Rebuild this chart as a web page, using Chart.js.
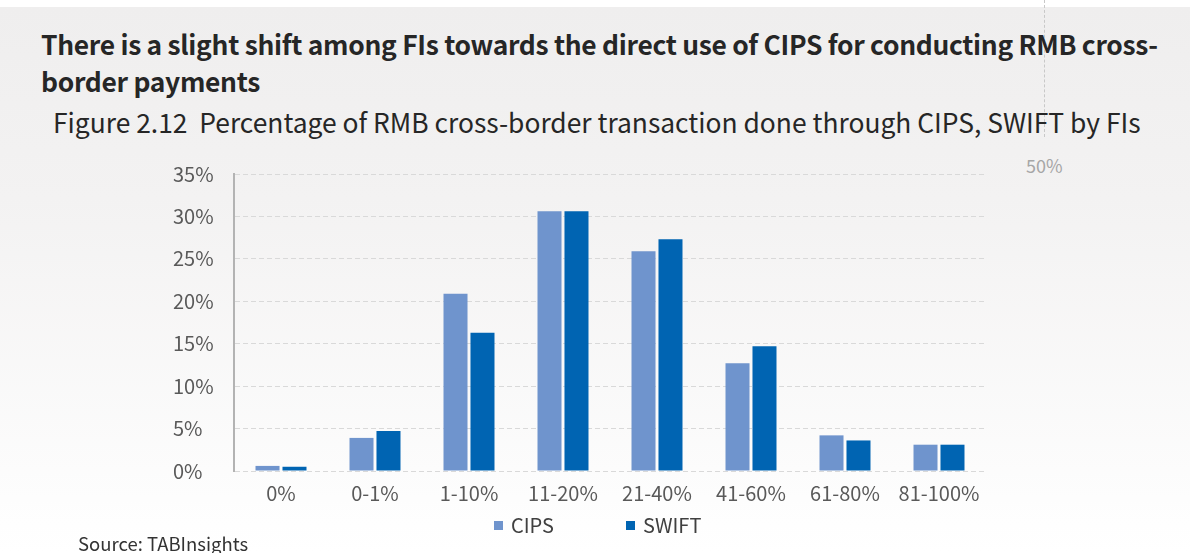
<!DOCTYPE html>
<html>
<head>
<meta charset="utf-8">
<script src="https://cdn.jsdelivr.net/npm/chart.js@4.4.0/dist/chart.umd.min.js"></script>
<style>
  html,body{margin:0;padding:0;width:1190px;height:553px;overflow:hidden;background:#fff;}
  #bg{position:absolute;left:0;top:7px;width:1190px;height:546px;background:linear-gradient(#efeeee 0%,#f3f2f2 35%,#fdfdfd 90%,#ffffff 100%);}
  .t{position:absolute;font-family:"Noto Sans CJK SC","Source Sans Pro",sans-serif;white-space:nowrap;}
  #title{left:41px;top:25px;font-size:26.4px;font-weight:700;color:#262626;line-height:37px;letter-spacing:-0.3px;}
  #sub{left:53px;top:109px;font-size:26.4px;line-height:1;color:#262626;}
  #src{left:78px;top:534px;font-size:18.5px;line-height:1;color:#333;}
  #fifty{left:1026px;top:156px;font-size:18px;line-height:1;color:#a6a6a6;}
  #vline{position:absolute;left:1044px;top:0;height:137px;border-left:1px dashed #c8c8c8;}
  #chartwrap{position:absolute;left:0;top:0;width:1190px;height:553px;}
  .sq{position:absolute;width:9px;height:9px;}
  .lg{position:absolute;font-family:"Noto Sans CJK SC",sans-serif;font-size:20px;line-height:1;color:#404040;}
</style>
</head>
<body>
<div id="bg"></div>
<div id="vline"></div>
<div class="t" id="title">There is a slight shift among FIs towards the direct use of CIPS for conducting RMB cross-<br>border payments</div>
<div class="t" id="sub">Figure 2.12&nbsp; Percentage of RMB cross-border transaction done through CIPS, SWIFT by FIs</div>
<div class="t" id="fifty">50%</div>
<div id="chartwrap"><canvas id="c" width="1190" height="553"></canvas></div>
<div class="sq" style="left:494px;top:521px;background:#6f94cd"></div>
<div class="lg" style="left:511px;top:515px;">CIPS</div>
<div class="sq" style="left:626px;top:521px;background:#0064b2"></div>
<div class="lg" style="left:643px;top:515px;">SWIFT</div>
<div class="t" id="src">Source: TABInsights</div>
<script>
const categories = ["0%","0-1%","1-10%","11-20%","21-40%","41-60%","61-80%","81-100%"];
const cipsValues = [0.6, 3.9, 20.9, 30.6, 25.9, 12.7, 4.2, 3.1];
const swiftValues = [0.5, 4.7, 16.3, 30.6, 27.3, 14.7, 3.6, 3.1];
const yTicks = [0,5,10,15,20,25,30,35];

const FONT = '"Noto Sans CJK SC", "Source Sans Pro", sans-serif';
new Chart(document.getElementById('c'), {
  type: 'bar',
  data: {
    labels: categories,
    datasets: [
      {label:'CIPS', data: cipsValues, backgroundColor:'#6f94cd', categoryPercentage:0.574, barPercentage:0.89},
      {label:'SWIFT', data: swiftValues, backgroundColor:'#0064b2', categoryPercentage:0.574, barPercentage:0.89}
    ]
  },
  options: {
    responsive:false, animation:false, devicePixelRatio:1,
    layout:{padding:{left:173,right:204,top:174,bottom:42}},
    plugins:{legend:{display:false},tooltip:{enabled:false}},
    scales:{
      x:{
        grid:{display:false,drawTicks:false},
        border:{display:false},
        ticks:{color:'#595959',font:{family:FONT,size:20},padding:10,maxRotation:0},
        afterFit:(s)=>{s.height=40;}
      },
      y:{
        min:0,max:35,
        afterBuildTicks:(s)=>{s.ticks = yTicks.map(v=>({value:v}));},
        grid:{color:'#d9d9d9',lineWidth:1,drawTicks:false},
        border:{display:true,color:'#b3b3b3',width:2,dash:[5,3]},
        ticks:{color:'#595959',font:{family:FONT,size:20},crossAlign:'far',padding:0,callback:(v)=>v+'%'},
        afterFit:(s)=>{s.width=61;}
      }
    }
  }
});
</script>
</body>
</html>
